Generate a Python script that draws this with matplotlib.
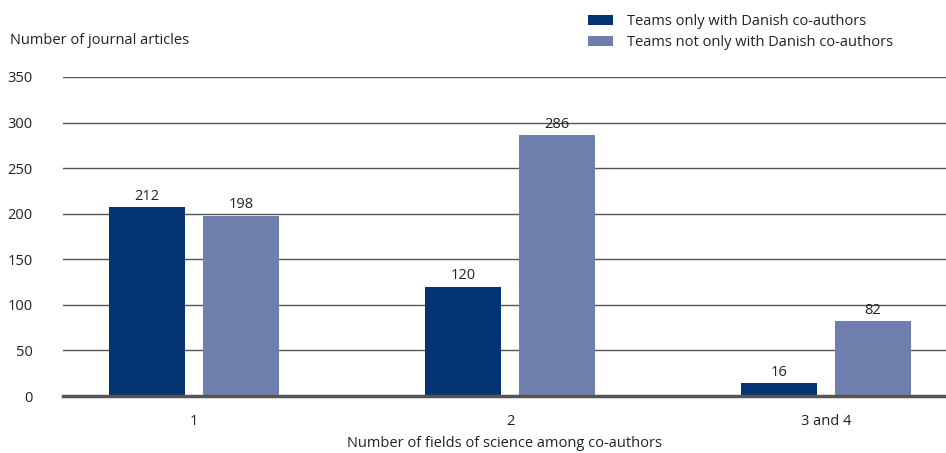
import matplotlib
matplotlib.use("Agg")
import matplotlib.pyplot as plt
import numpy as np

categories = ["1", "2", "3 and 4"]
series_names = ["Teams only with Danish co-authors", "Teams not only with Danish co-authors"]
danish_only = [207, 120, 14]          # bar heights as drawn
not_only = [198, 286, 82]
danish_only_labels = ["212", "120", "16"]
not_only_labels = ["198", "286", "82"]
yticks = [0, 50, 100, 150, 200, 250, 300, 350]

colors = ["#043474", "#6F7FAD"]
fs = 10.5

plt.rcParams['font.family'] = ['Open Sans', 'DejaVu Sans']
fig = plt.figure(figsize=(9.46, 4.53), dpi=100)
ax = fig.add_axes([63/946, 1-396/453, 1-63/946, (396-77)/453])

x = np.arange(len(categories))
w = 0.24
off = 0.149
b1 = ax.bar(x - off, danish_only, w, color=colors[0], label=series_names[0], zorder=3)
b2 = ax.bar(x + off, not_only, w, color=colors[1], label=series_names[1], zorder=3)

for bars, labs in ((b1, danish_only_labels), (b2, not_only_labels)):
    for r, t in zip(bars, labs):
        ax.annotate(t, (r.get_x() + r.get_width()/2, r.get_height()),
                    xytext=(0, 2.5), textcoords="offset points",
                    ha="center", va="bottom", fontsize=fs, color="#222222")

ax.set_xlim(-0.415, 2.38)
ax.set_ylim(0, 350)
ax.set_yticks(yticks)
ax.set_yticklabels([str(v) for v in yticks], fontsize=fs, color="#222222")
ax.set_xticks(x)
ax.set_xticklabels(categories, fontsize=fs, color="#222222")
ax.tick_params(axis='y', length=0, pad=22)
ax.tick_params(axis='x', length=0, pad=13)
ax.yaxis.grid(True, color="#555555", linewidth=1.0, zorder=0)
ax.set_axisbelow(True)
for s in ["top", "right", "left"]:
    ax.spines[s].set_visible(False)
ax.spines["bottom"].set_color("#555555")
ax.spines["bottom"].set_linewidth(2.5)
ax.spines["bottom"].set_zorder(4)

ax.set_xlabel("Number of fields of science among co-authors", fontsize=fs, color="#222222", labelpad=5)
fig.text(10/946, 1-40/453, "Number of journal articles", fontsize=fs, color="#222222", va="center", ha="left")

leg = fig.legend(handles=[b1, b2], labels=series_names, loc="upper left",
                 bbox_to_anchor=(582/946, 1-8/453), frameon=False, fontsize=fs,
                 handlelength=1.7, handleheight=0.7, handletextpad=1.0, labelspacing=0.45,
                 borderaxespad=0)
for t in leg.get_texts():
    t.set_color("#222222")

fig.savefig("out.png", dpi=100)
